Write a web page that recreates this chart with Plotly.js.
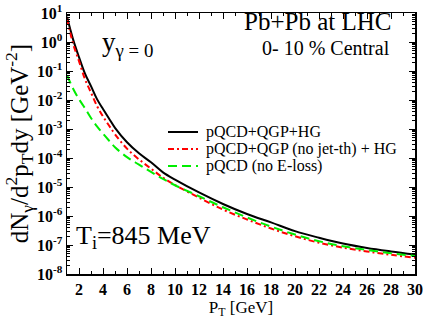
<!DOCTYPE html>
<html><head><meta charset="utf-8">
<script src="https://cdn.plot.ly/plotly-3.0.1.min.js"></script>
<style>html,body{margin:0;padding:0;background:#fff;}#chart{width:423px;height:327px;}</style>
</head><body><div id="chart"></div>
<script>
// transverse momentum (GeV)
const pT = [1,1.5,2,2.5,3,3.5,4,4.5,5,6,7,8,9,10,12,14,16,18,20,22,24,26,28,30];
// pQCD+QGP+HG
const fullHG = [7.4,1.26,0.30,0.081,0.030,0.0107,4.9e-3,2.3e-3,1.1e-3,3.5e-4,1.45e-4,7.1e-5,3.2e-5,1.8e-5,6.5e-6,2.6e-6,1.17e-6,6.0e-7,3.0e-7,1.78e-7,1.12e-7,7.9e-8,6.0e-8,4.7e-8];
// pQCD+QGP (no jet-th) + HG
const noJetTh = [6.3,0.89,0.22,0.052,0.018,6.2e-3,2.7e-3,1.32e-3,6.6e-4,2.1e-4,8.9e-5,4.3e-5,2.1e-5,1.17e-5,4.3e-6,1.66e-6,7.6e-7,3.7e-7,2.0e-7,1.2e-7,8.1e-8,6.0e-8,4.6e-8,3.6e-8];
// pQCD (no E-loss)
const noEloss = [0.072,0.025,0.0107,5.2e-3,2.4e-3,1.23e-3,6.9e-4,4.0e-4,2.35e-4,1.07e-4,5.9e-5,3.3e-5,1.9e-5,1.15e-5,4.8e-6,2.0e-6,8.9e-7,4.3e-7,2.3e-7,1.35e-7,9.1e-8,6.8e-8,5.2e-8,4.2e-8];
const seriesNames = ['pQCD+QGP+HG','pQCD+QGP (no jet-th) + HG','pQCD (no E-loss)'];
const yTickExp = [1,0,-1,-2,-3,-4,-5,-6,-7,-8];
const xTickVals = [2,4,6,8,10,12,14,16,18,20,22,24,26,28,30];

const FONT = 'Liberation Serif, Times New Roman, serif';
const styles = [
  {color:'#000000', dash:'solid'},
  {color:'#ff0000', dash:'6px,3px,2px,3px'},
  {color:'#00ee00', dash:'9px,5px'}
];
const seriesData = [fullHG, noJetTh, noEloss];

const traces = seriesData.map((ys, i) => ({
  x: pT, y: ys, type:'scatter', mode:'lines', name: seriesNames[i],
  line:{color:styles[i].color, dash:styles[i].dash, width:2, shape:'spline', smoothing:1},
  showlegend:false
}));

const yTickVals = yTickExp.map(e => Math.pow(10, e));
const yTickText = yTickExp.map(e => '10<sup>' + (e < 0 ? '-' + (-e) : e) + '</sup>');
const yMinor = [];
for (let e = -8; e < 1; e++) for (let m = 2; m <= 9; m++) yMinor.push(m * Math.pow(10, e));

// plot area in pixels: x 67..415, y 13..274
const L = 67, R = 415, T = 13, B = 274;
const px = x => (x - L) / (R - L);
const py = y => (B - y) / (B - T);

const legendRows = [132, 149, 166];
const shapes = legendRows.map((r, i) => ({
  type:'line', xref:'paper', yref:'paper', x0:px(168), x1:px(198), y0:py(r), y1:py(r),
  line:{color:styles[i].color, dash:styles[i].dash, width:2}
}));
const annotations = legendRows.map((r, i) => ({
  xref:'paper', yref:'paper', x:px(204), y:py(r), xanchor:'left', yanchor:'middle',
  text: seriesNames[i], showarrow:false, font:{family:FONT, size:16, color:'#000'}
}));
annotations.push(
  {xref:'paper', yref:'paper', x:px(100), y:py(44), xanchor:'left', yanchor:'middle', showarrow:false,
   text:'y<sub>γ = 0</sub>', font:{family:FONT, size:27, color:'#000'}},
  {xref:'paper', yref:'paper', x:px(242), y:py(22), xanchor:'left', yanchor:'middle', showarrow:false,
   text:'Pb+Pb at LHC', font:{family:FONT, size:25, color:'#000'}},
  {xref:'paper', yref:'paper', x:px(260), y:py(48), xanchor:'left', yanchor:'middle', showarrow:false,
   text:'0- 10 % Central', font:{family:FONT, size:20, color:'#000'}},
  {xref:'paper', yref:'paper', x:px(74), y:py(237), xanchor:'left', yanchor:'middle', showarrow:false,
   text:'T<sub>i</sub>=845 MeV', font:{family:FONT, size:26, color:'#000'}}
);

const layout = {
  width:423, height:327,
  margin:{l:L, r:423-R, t:T, b:327-B, pad:0},
  paper_bgcolor:'#fff', plot_bgcolor:'#fff',
  font:{family:FONT, color:'#000'},
  xaxis:{
    range:[1,30], showgrid:false, zeroline:false,
    showline:true, linecolor:'#000', linewidth:1.5, mirror:'allticks',
    ticks:'inside', ticklen:6, tickwidth:1, tickcolor:'#000',
    tickmode:'array', tickvals:xTickVals,
    tickfont:{family:FONT, size:16, weight:'bold', color:'#000'},
    minor:{tickmode:'linear', tick0:1, dtick:1, ticks:'inside', ticklen:3, tickcolor:'#000', showgrid:false},
    title:{text:'P<sub>T</sub> [GeV]', font:{family:FONT, size:17, color:'#000'}, standoff:4}
  },
  yaxis:{
    type:'log', range:[-8,1], showgrid:false, zeroline:false,
    showline:true, linecolor:'#000', linewidth:1.5, mirror:'allticks',
    ticks:'inside', ticklen:6, tickwidth:1, tickcolor:'#000',
    tickmode:'array', tickvals:yTickVals, ticktext:yTickText,
    tickfont:{family:FONT, size:16, weight:'bold', color:'#000'},
    minor:{tickmode:'array', tickvals:yMinor, ticks:'inside', ticklen:3, tickcolor:'#000', showgrid:false},
    title:{text:'dN<sub>γ</sub>/d<sup>2</sup>p<sub>T</sub>dy [GeV<sup>-2</sup>]', font:{family:FONT, size:25, color:'#000'}, standoff:0}
  },
  shapes: shapes,
  annotations: annotations,
  showlegend:false
};

Plotly.newPlot('chart', traces, layout, {displayModeBar:false, staticPlot:true});
</script>
</body></html>
